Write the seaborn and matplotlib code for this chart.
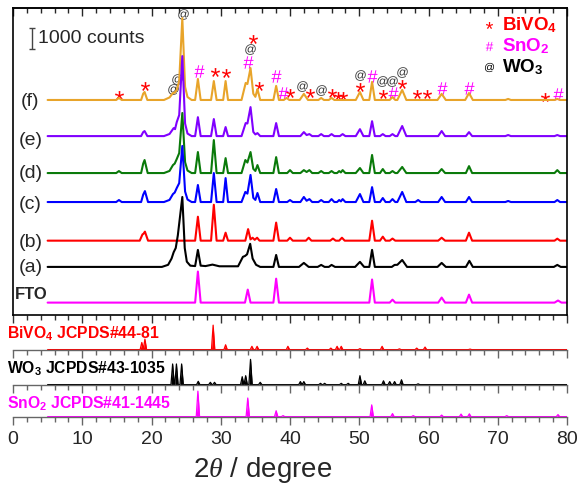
import matplotlib
matplotlib.use("Agg")
import numpy as np
import pandas as pd
import matplotlib.pyplot as plt
import seaborn as sns
from matplotlib.font_manager import FontProperties
from matplotlib.path import Path
from matplotlib.textpath import TextPath
from matplotlib.ticker import MultipleLocator

# measured XRD patterns, (2theta, counts above own baseline)
TRACE_F = [(5, 0), (14.9, 0), (15.3, 95), (15.7, 0), (18.5, 0), (18.8, 300), (19.0, 380), (19.4, 0),
           (21.8, 0), (22.6, 120), (23.1, 330), (23.35, 350), (23.65, 480), (24.0, 900), (24.45, 3900),
           (24.85, 620), (25.2, 140), (25.8, 0), (26.3, 0), (26.7, 1000), (27.1, 0), (28.6, 0), (29.0, 900),
           (29.4, 0), (30.35, 0), (30.7, 900), (31.05, 0), (33.0, 0), (33.6, 810), (33.85, 760), (34.3, 1520),
           (34.7, 300), (35.0, 150), (35.3, 520), (35.7, 0), (37.6, 0), (38.0, 670), (38.4, 0), (39.1, 0),
           (39.5, 95), (39.9, 0), (41.4, 0), (42.0, 290), (42.6, 0), (44.1, 0), (44.5, 95), (44.9, 0),
           (45.6, 0), (46.0, 95), (46.4, 0), (49.5, 0), (50.1, 380), (50.6, 0), (51.45, 0), (51.85, 860),
           (52.25, 0), (54.4, 0), (54.8, 140), (55.2, 0), (55.5, 0), (56.2, 480), (56.8, 0), (61.3, 0),
           (61.9, 290), (62.5, 0), (65.3, 0), (65.85, 330), (66.4, 0), (71.1, 0), (71.5, 50), (71.9, 0),
           (78.2, 0), (78.6, 50), (79.0, 0), (80, 0)]
TRACE_E = [(5, 0), (18.5, 0), (18.8, 190), (19.0, 240), (19.4, 0), (21.8, 0), (22.6, 100), (23.2, 380),
           (23.4, 330), (23.65, 670), (24.0, 1000), (24.45, 3810), (24.85, 600), (25.2, 120), (25.8, 0),
           (26.3, 0), (26.7, 900), (27.1, 0), (28.6, 0), (29.0, 810), (29.4, 0), (30.35, 0), (30.7, 430),
           (31.05, 0), (33.0, 0), (33.6, 620), (33.85, 600), (34.3, 1380), (34.7, 200), (35.0, 80),
           (35.3, 143), (35.7, 0), (37.6, 0), (38.0, 620), (38.4, 0), (41.5, 0), (42.0, 190), (42.4, 50),
           (42.8, 95), (43.2, 0), (44.1, 0), (44.5, 95), (44.9, 0), (45.6, 0), (46.0, 95), (46.4, 0),
           (47.2, 0), (47.6, 95), (48.0, 0), (49.5, 0), (50.1, 330), (50.6, 0), (51.45, 0), (51.85, 710),
           (52.25, 0), (53.0, 0), (53.4, 95), (53.8, 0), (54.4, 0), (54.8, 95), (55.2, 0), (55.5, 0),
           (56.2, 480), (56.8, 0), (61.4, 0), (61.9, 240), (62.4, 0), (65.4, 0), (65.85, 190), (66.3, 0),
           (71.1, 0), (71.5, 50), (71.9, 0), (78.2, 0), (78.6, 50), (79.0, 0), (80, 0)]
TRACE_D = [(5, 0), (14.9, 0), (15.3, 95), (15.7, 0), (18.5, 0), (18.8, 450), (19.0, 620), (19.45, 0),
           (21.8, 0), (22.6, 100), (23.1, 380), (23.35, 450), (23.65, 670), (24.0, 950), (24.45, 2860),
           (24.85, 520), (25.2, 120), (25.8, 0), (26.3, 0), (26.7, 1000), (27.1, 0), (28.6, 0), (29.0, 1570),
           (29.4, 0), (30.35, 0), (30.7, 710), (31.05, 0), (33.0, 0), (33.55, 620), (33.85, 500), (34.3, 1000),
           (34.7, 200), (35.0, 100), (35.3, 380), (35.7, 0), (37.6, 0), (38.0, 760), (38.4, 0), (39.6, 0),
           (40.0, 140), (40.4, 0), (41.5, 0), (42.0, 140), (42.4, 50), (42.8, 140), (43.2, 0), (44.1, 0),
           (44.5, 95), (44.9, 0), (45.6, 0), (46.0, 95), (46.4, 0), (46.8, 0), (47.1, 95), (47.35, 30),
           (47.6, 140), (48.0, 0), (49.5, 0), (50.1, 240), (50.6, 0), (51.45, 0), (51.85, 860), (52.25, 0),
           (53.0, 0), (53.4, 190), (53.8, 0), (54.4, 0), (54.8, 95), (55.2, 0), (55.5, 0), (56.2, 290),
           (56.8, 0), (61.4, 0), (61.9, 190), (62.4, 0), (65.4, 0), (65.85, 330), (66.3, 0), (78.2, 0),
           (78.6, 140), (79.0, 0), (80, 0)]
TRACE_C = [(5, 0), (14.9, 0), (15.3, 95), (15.7, 0), (18.5, 0), (18.8, 350), (19.05, 520), (19.5, 0),
           (21.8, 0), (22.6, 100), (23.1, 380), (23.35, 450), (23.65, 670), (24.0, 900), (24.45, 2670),
           (24.85, 500), (25.2, 120), (25.8, 0), (26.3, 0), (26.7, 810), (27.1, 0), (28.6, 0), (29.0, 1380),
           (29.4, 0), (30.35, 0), (30.7, 1140), (31.05, 0), (33.0, 0), (33.55, 480), (33.85, 400), (34.3, 1290),
           (34.7, 200), (35.0, 100), (35.3, 430), (35.7, 0), (37.6, 0), (38.0, 620), (38.4, 0), (39.6, 0),
           (40.0, 95), (40.4, 0), (41.5, 0), (42.0, 240), (42.4, 60), (42.8, 140), (43.2, 0), (44.1, 0),
           (44.5, 95), (44.9, 0), (45.6, 0), (46.0, 140), (46.4, 0), (46.8, 0), (47.1, 95), (47.35, 30),
           (47.6, 140), (48.0, 0), (49.5, 0), (50.1, 380), (50.6, 0), (51.45, 0), (51.85, 710), (52.25, 0),
           (53.0, 0), (53.4, 190), (53.8, 0), (54.4, 0), (54.8, 140), (55.2, 0), (55.5, 0), (56.2, 480),
           (56.8, 0), (58.1, 0), (58.5, 95), (58.9, 0), (61.4, 0), (61.9, 240), (62.4, 0), (65.4, 0),
           (65.85, 240), (66.3, 0), (71.1, 0), (71.5, 50), (71.9, 0), (78.2, 0), (78.6, 95), (79.0, 0), (80, 0)]
TRACE_B = [(5, 0), (18.3, 0), (18.7, 300), (18.85, 330), (19.05, 430), (19.5, 0), (26.3, 0), (26.7, 1140),
           (27.1, 0), (28.6, 0), (29.0, 1710), (29.4, 0), (30.35, 0), (30.7, 380), (31.05, 0), (33.55, 0),
           (33.95, 550), (34.3, 60), (34.6, 140), (34.9, 40), (35.25, 140), (35.6, 0), (37.6, 0), (38.0, 860),
           (38.4, 0), (39.6, 0), (40.0, 140), (40.4, 0), (42.3, 0), (42.7, 140), (43.1, 0), (45.8, 0),
           (46.2, 100), (46.6, 0), (47.1, 0), (47.5, 140), (47.9, 0), (51.45, 0), (51.85, 950), (52.25, 0),
           (53.0, 0), (53.4, 190), (53.8, 0), (54.4, 0), (54.8, 100), (55.2, 0), (61.4, 0), (61.9, 140),
           (62.4, 0), (65.4, 0), (65.85, 380), (66.3, 0), (78.2, 0), (78.6, 95), (79.0, 0), (80, 0)]
TRACE_A = [(5, 0), (21.5, 0), (22.4, 100), (22.9, 400), (23.2, 700), (23.5, 900), (23.8, 1500), (24.45, 3330),
           (24.8, 900), (25.1, 250), (25.6, 60), (26.3, 40), (26.7, 810), (27.1, 60), (27.8, 40), (28.8, 110),
           (29.8, 30), (32.5, 30), (33.2, 480), (33.5, 520), (33.8, 600), (34.25, 1100), (34.6, 400),
           (35.1, 100), (35.7, 0), (37.6, 0), (38.0, 570), (38.4, 0), (41.3, 0), (42.0, 190), (42.7, 0),
           (44.0, 0), (44.5, 95), (45.0, 0), (45.6, 0), (46.0, 95), (46.5, 0), (49.4, 0), (50.1, 240),
           (50.7, 0), (51.45, 0), (51.85, 810), (52.25, 0), (54.7, 0), (55.1, 95), (55.5, 100), (56.2, 330),
           (56.9, 0), (61.3, 0), (61.9, 190), (62.5, 0), (65.4, 0), (65.9, 290), (66.4, 0), (78.1, 0),
           (78.6, 95), (79.1, 0), (80, 0)]
TRACE_FTO = [(5, 0), (26.3, 0), (26.7, 1480), (27.1, 0), (33.5, 0), (33.9, 620), (34.3, 0), (37.6, 0),
             (38.0, 1140), (38.4, 0), (51.45, 0), (51.85, 1100), (52.25, 0), (54.4, 0), (54.8, 140), (55.2, 0),
             (61.4, 0), (61.9, 240), (62.4, 0), (65.4, 0), (65.85, 380), (66.3, 0), (78.2, 0), (78.7, 100),
             (79.2, 0), (80, 0)]

TRACES = [TRACE_F, TRACE_E, TRACE_D, TRACE_C, TRACE_B, TRACE_A, TRACE_FTO]
TRACE_NAMES = ["(f)", "(e)", "(d)", "(c)", "(b)", "(a)", "FTO"]
TRACE_OFFSETS = [10240, 8520, 6760, 5380, 3540, 2290, 590]
TRACE_COLORS = ["#E8A42A", "#8000FF", "#0A7A0A", "#0000FF", "#FF0000", "#000000", "#FF00FF"]
LABEL_Y = [10150, 8330, 6760, 5280, 3470, 2240, 1000]

# phase markers on pattern (f)
STAR_X = [15.3, 19.1, 29.1, 30.8, 34.7, 35.5, 40.0, 42.9, 46.0, 46.9, 47.7, 50.1, 53.5, 56.2, 58.4, 59.8, 76.8]
STAR_Y = [10480, 10900, 11590, 11540, 13130, 10920, 10590, 10570, 10570, 10430, 10430, 10860, 10520,
          11000, 10520, 10520, 10380]
HASH_X = [26.8, 33.96, 37.95, 39.0, 51.8, 54.9, 61.9, 65.8, 78.7]
HASH_Y = [11630, 12030, 11380, 10560, 11380, 10570, 10810, 10810, 10520]
AT_X = [23.1, 23.7, 24.5, 34.2, 41.8, 44.5, 50.1, 53.3, 54.8, 56.2]
AT_Y = [10750, 11220, 14330, 12650, 10900, 10710, 11430, 11140, 11140, 11570]

# JCPDS reference cards (relative intensity)
BIVO4_POS = [18.6, 19.05, 28.9, 30.7, 34.5, 35.25, 39.7, 42.5, 45.9, 46.8, 47.4, 50.1, 53.3, 55.8, 58.3, 59.5, 66.0]
BIVO4_INT = [28, 41, 96, 19, 13, 13, 13, 6, 6, 13, 13, 4, 13, 3, 6, 10, 2]
WO3_POS = [23.05, 23.6, 24.35, 26.75, 28.5, 29.1, 33.1, 33.6, 34.3, 35.7, 41.5, 42.0, 44.4, 45.0, 47.4, 48.4,
           50.1, 50.8, 53.5, 54.4, 55.1, 56.1, 58.5]
WO3_INT = [81, 81, 81, 13, 9, 9, 31, 35, 99, 9, 12, 12, 5, 5, 5, 5, 35, 15, 15, 12, 12, 19, 3]
SNO2_POS = [26.7, 33.9, 38.0, 39.0, 51.8, 54.8, 57.8, 61.9, 64.7, 65.9, 71.3, 78.7]
SNO2_INT = [100, 73, 23, 4, 46, 12, 4, 6, 10, 11, 4, 8]
PATTERN_RANGE = (5, 80)

REF_LABELS = [r"BiVO$_\mathbf{4}$ JCPDS#44-81", r"WO$_\mathbf{3}$ JCPDS#43-1035", r"SnO$_\mathbf{2}$ JCPDS#41-1445"]
REF_COLORS = ["#FF0000", "#000000", "#FF00FF"]


def glyph_marker(ch):
    tp = TextPath((0, 0), ch, size=10, prop=FontProperties(family="Liberation Sans"))
    ext = tp.get_extents()
    center = np.array([(ext.x0 + ext.x1) / 2, (ext.y0 + ext.y1) / 2])
    verts = tp.vertices.copy()
    codes = tp.codes.copy()
    verts[codes == Path.CLOSEPOLY] = center
    return Path(verts - center, codes)


def ref_profile(pos, inten, hw=0.24):
    xs, ys = [PATTERN_RANGE[0]], [0]
    for p, h in zip(pos, inten):
        xs += [p - hw, p, p + hw]
        ys += [0, h, 0]
    xs.append(PATTERN_RANGE[1])
    ys.append(0)
    return np.array(xs), np.array(ys)


sns.set_theme(style="ticks")
plt.rcParams["font.family"] = ["Liberation Sans", "DejaVu Sans"]
plt.rcParams["mathtext.fontset"] = "custom"
plt.rcParams["mathtext.rm"] = "Liberation Sans"
plt.rcParams["mathtext.bf"] = "Liberation Sans:bold"
plt.rcParams["mathtext.it"] = "Liberation Serif:italic"

W, H = 582, 490
fig = plt.figure(figsize=(W / 100, H / 100), dpi=100)
ax = fig.add_axes([13 / W, 1 - 315 / H, 554 / W, 307 / H])

rows = []
for name, pts, off in zip(TRACE_NAMES, TRACES, TRACE_OFFSETS):
    for x, y in pts:
        rows.append({"two_theta": x, "counts": y + off, "sample": name})
df = pd.DataFrame(rows)
sns.lineplot(data=df, x="two_theta", y="counts", hue="sample", hue_order=TRACE_NAMES,
             palette=dict(zip(TRACE_NAMES, TRACE_COLORS)), estimator=None, sort=False,
             legend=False, lw=1.5, ax=ax)

for name, y in zip(TRACE_NAMES, LABEL_Y):
    if name == "FTO":
        ax.text(2.6, y, name, ha="center", va="center", fontsize=12, fontweight="bold")
    else:
        ax.text(2.5, y, name, ha="center", va="center", fontsize=14)

star, hsh, at = glyph_marker("*"), glyph_marker("#"), glyph_marker("@")
sns.scatterplot(x=STAR_X, y=STAR_Y, marker=star, s=42, color="#FF0000", linewidth=0, ax=ax)
sns.scatterplot(x=HASH_X, y=HASH_Y, marker=hsh, s=80, color="#FF00FF", linewidth=0, ax=ax)
sns.scatterplot(x=AT_X, y=AT_Y, marker=at, s=58, color="#333333", linewidth=0, ax=ax)

# phase key
for mk, s, c, y, lab in [(star, 26, "#FF0000", 13810, r"BiVO$_\mathbf{4}$"),
                         (hsh, 44, "#FF00FF", 12800, r"SnO$_\mathbf{2}$"),
                         (at, 44, "#000000", 11790, r"WO$_\mathbf{3}$")]:
    ax.scatter([68.8], [y], marker=mk, s=s, color=c, linewidth=0)
    ax.text(70.6, y, lab, color=c, fontsize=13.5, fontweight="bold", ha="left", va="center")

# 1000 counts scale bar
ax.errorbar([2.74], [13170], yerr=500, capsize=2.5, color="#444444", lw=1, capthick=1)
ax.text(3.6, 13190, "1000 counts", fontsize=14, ha="left", va="center")

ax.set_xlim(0, 80)
ax.set_ylim(0, 14620)
ax.set_yticks([])
ax.set_xlabel("")
ax.set_ylabel("")
ax.xaxis.set_major_locator(MultipleLocator(10))
ax.xaxis.set_minor_locator(MultipleLocator(2))
ax.tick_params(axis="x", which="major", direction="out", length=6, width=1, color="#333333",
               labelbottom=False, top=False)
ax.tick_params(axis="x", which="minor", direction="out", length=3.5, width=1, color="#333333", top=False)
for sp in ax.spines.values():
    sp.set_color("black")
    sp.set_linewidth(1.2)
sec = ax.secondary_xaxis("top")
sec.xaxis.set_major_locator(MultipleLocator(10))
sec.xaxis.set_minor_locator(MultipleLocator(2))
sec.tick_params(axis="x", which="major", direction="in", length=6, width=1, labeltop=False)
sec.tick_params(axis="x", which="minor", direction="in", length=3.5, width=1)

# reference cards
ref_bottoms = [350, 385, 417]
for i, (pos, inten) in enumerate([(BIVO4_POS, BIVO4_INT), (WO3_POS, WO3_INT), (SNO2_POS, SNO2_INT)]):
    rax = fig.add_axes([13 / W, 1 - ref_bottoms[i] / H, 554 / W, 33 / H])
    rax.set_facecolor("none")
    xs, ys = ref_profile(pos, inten)
    rax.fill_between(xs, ys, 0, color=REF_COLORS[i], lw=0)
    sns.lineplot(x=xs, y=ys, color=REF_COLORS[i], lw=0.9, estimator=None, sort=False, ax=rax)
    rax.set_xlim(0, 80)
    rax.set_ylim(-1.5, 128)
    rax.set_yticks([])
    for side in ["left", "top", "right"]:
        rax.spines[side].set_visible(False)
    rax.spines["bottom"].set_color("#666666")
    rax.spines["bottom"].set_linewidth(1)
    rax.xaxis.set_major_locator(MultipleLocator(10))
    rax.xaxis.set_minor_locator(MultipleLocator(2))
    rax.tick_params(axis="x", which="major", direction="out", length=6, width=1, color="#666666",
                    labelbottom=(i == 2), labelsize=14, pad=4)
    rax.tick_params(axis="x", which="minor", direction="out", length=3.5, width=1, color="#666666")
    fig.text(7 / W, 1 - (334 + 35 * i) / H, REF_LABELS[i], color=REF_COLORS[i], fontsize=11.3,
             fontweight="bold", ha="left", va="center")

fig.text(263 / W, 1 - 470 / H, r"2$\theta$ / degree", fontsize=20, ha="center", va="center")

fig.savefig("out.png", dpi=100)
